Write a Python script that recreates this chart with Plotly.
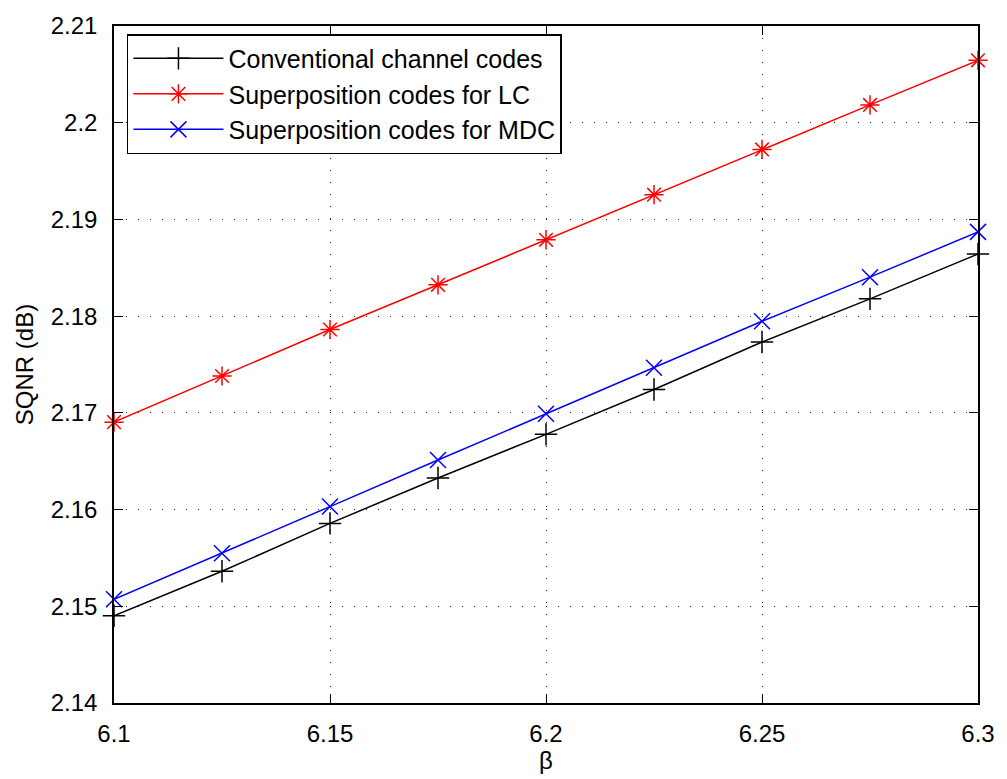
import plotly.graph_objects as go

# beta values (x axis)
beta = [6.1, 6.125, 6.15, 6.175, 6.2, 6.225, 6.25, 6.275, 6.3]

# SQNR in dB for each coding scheme
sqnr_conventional = [2.14902, 2.15362, 2.15857, 2.16327, 2.16778, 2.17242, 2.17733, 2.18179, 2.18642]
sqnr_lc = [2.16904, 2.17381, 2.17862, 2.18324, 2.18789, 2.19256, 2.19724, 2.20184, 2.20645]
sqnr_mdc = [2.15072, 2.15549, 2.16031, 2.16512, 2.16990, 2.17467, 2.17947, 2.18403, 2.18871]

names = ["Conventional channel codes", "Superposition codes for LC", "Superposition codes for MDC"]

x_ticks = [6.1, 6.15, 6.2, 6.25, 6.3]
x_ticktext = ["6.1", "6.15", "6.2", "6.25", "6.3"]
y_ticks = [2.14, 2.15, 2.16, 2.17, 2.18, 2.19, 2.2, 2.21]
y_ticktext = ["2.14", "2.15", "2.16", "2.17", "2.18", "2.19", "2.2", "2.21"]

FONT = "Liberation Sans, Helvetica, Arial, sans-serif"
FS = 24
LEGEND_FS = 25

series = [
    (sqnr_conventional, "#000000", "cross-thin-open"),
    (sqnr_lc, "#ff0000", "asterisk-open"),
    (sqnr_mdc, "#0000ff", "x-thin-open"),
]

fig = go.Figure()
for (vals, color, sym), name in zip(series, names):
    fig.add_trace(go.Scatter(
        x=beta, y=vals, name=name, mode="lines+markers",
        line=dict(color=color, width=1.5),
        marker=dict(symbol=sym, size=16, color=color, line=dict(color=color, width=1.5)),
        cliponaxis=False,
    ))

axis_common = dict(
    showline=True, linecolor="black", linewidth=1.5, mirror="ticks",
    ticks="inside", ticklen=9, tickwidth=1, tickcolor="black",
    showgrid=True, gridcolor="#222222", gridwidth=1, griddash="1px,11px",
    zeroline=False,
    tickfont=dict(family=FONT, size=FS, color="black"),
)

fig.update_xaxes(
    range=[6.1, 6.3], tickvals=x_ticks, ticktext=x_ticktext,
    title=dict(text="β", font=dict(family=FONT, size=FS, color="black"), standoff=4),
    ticklabelstandoff=8,
    **axis_common,
)
fig.update_yaxes(
    range=[2.14, 2.21], tickvals=y_ticks, ticktext=y_ticktext,
    title=dict(text="SQNR (dB)", font=dict(family=FONT, size=FS, color="black"), standoff=10),
    ticklabelstandoff=10,
    **axis_common,
)

fig.update_layout(
    width=1007, height=779,
    margin=dict(l=114, r=24, t=21, b=74),
    paper_bgcolor="white", plot_bgcolor="white",
    font=dict(family=FONT, size=FS, color="black"),
    showlegend=True,
    legend=dict(
        x=0.015, y=0.988, xanchor="left", yanchor="top",
        bgcolor="white", bordercolor="black", borderwidth=1.5,
        font=dict(family=FONT, size=LEGEND_FS, color="black"),
        tracegroupgap=0, itemwidth=90,
    ),
)

fig.write_html("out.html")
